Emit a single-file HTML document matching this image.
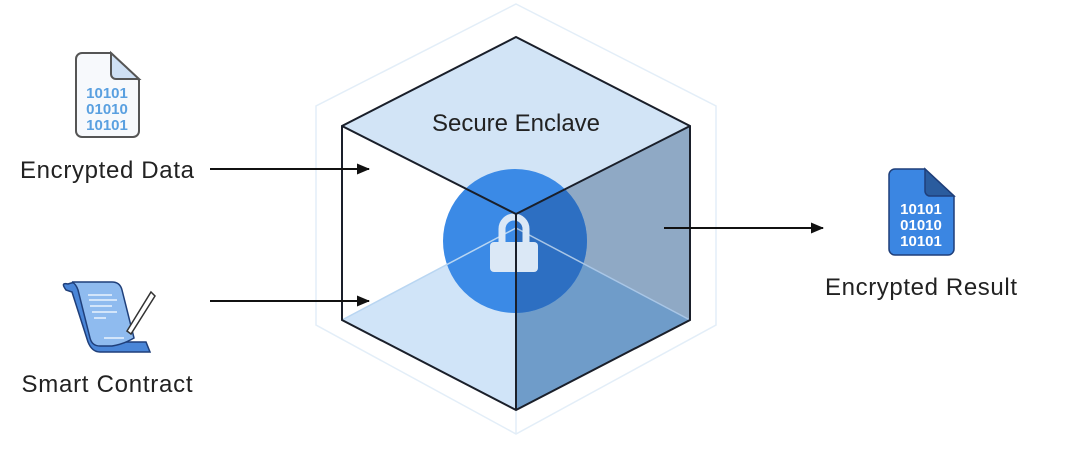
<!DOCTYPE html>
<html><head><style>
html,body{margin:0;padding:0;background:#fff;width:1080px;height:456px;overflow:hidden}
</style></head><body>
<svg width="1080" height="456" viewBox="0 0 1080 456" xmlns="http://www.w3.org/2000/svg" font-family="Liberation Sans, sans-serif">
<defs>
<clipPath id="rf"><polygon points="516,214 690,126 690,320 516,410"/></clipPath>
<marker id="ah" markerWidth="13" markerHeight="11" refX="12" refY="5.5" orient="auto" markerUnits="userSpaceOnUse"><path d="M0,0 L13,5.5 L0,11 z" fill="#111"/></marker>
</defs>
<polygon points="516,4 716,106 716,325 516,434 316,325 316,106" fill="none" stroke="#e3eef8" stroke-width="1.5"/>
<line x1="516" y1="214" x2="516" y2="434" stroke="#e3eef8" stroke-width="1.5"/>
<polygon points="342,126 516,214 516,410 342,320" fill="#ffffff"/>
<polygon points="342,320 516,228 516,410" fill="#d0e4f8"/>
<polygon points="516,214 690,126 690,320 516,228" fill="#8fa9c5"/>
<polygon points="516,228 690,320 516,410" fill="#6f9cc9"/>
<polygon points="516,37 690,126 516,214 342,126" fill="#d2e4f6"/>
<circle cx="515" cy="241" r="72" fill="#3b8ae6"/>
<circle cx="515" cy="241" r="72" fill="#2d6fc2" clip-path="url(#rf)"/>
<line x1="516" y1="228" x2="342" y2="320" stroke="#b9d6f2" stroke-width="1.5"/>
<line x1="516" y1="228" x2="690" y2="320" stroke="#a9c6e6" stroke-width="1.5"/>
<path d="M502,243 V229 a12,12 0 0 1 24,0 V243" fill="none" stroke="#dbe8f6" stroke-width="7"/>
<rect x="490" y="242" width="48" height="30" rx="4" fill="#dbe8f6"/>
<polygon points="516,37 690,126 690,320 516,410 342,320 342,126" fill="none" stroke="#1a1f2a" stroke-width="2"/>
<polyline points="342,126 516,214 690,126" fill="none" stroke="#1a1f2a" stroke-width="2"/>
<line x1="516" y1="214" x2="516" y2="410" stroke="#1a1f2a" stroke-width="2"/>
<text x="516" y="131" text-anchor="middle" font-size="24" fill="#222" textLength="168">Secure Enclave</text>
<line x1="210" y1="169" x2="369" y2="169" stroke="#111" stroke-width="2" marker-end="url(#ah)"/>
<line x1="210" y1="301" x2="369" y2="301" stroke="#111" stroke-width="2" marker-end="url(#ah)"/>
<line x1="664" y1="228" x2="823" y2="228" stroke="#111" stroke-width="2" marker-end="url(#ah)"/>
<path d="M82,53 H111 L139,80 V131 a6,6 0 0 1 -6,6 H82 a6,6 0 0 1 -6,-6 V59 a6,6 0 0 1 6,-6 z" fill="#f7f9fc" stroke="#555" stroke-width="2"/>
<path d="M111,53 V74 a5,5 0 0 0 5,5 H139 z" fill="#cfe0f4" stroke="#555" stroke-width="2"/>
<g font-size="15" font-weight="bold" fill="#5aa0e0" text-anchor="middle">
<text x="107" y="98">10101</text><text x="107" y="114">01010</text><text x="107" y="130">10101</text></g>
<text x="107" y="178" text-anchor="middle" font-size="24" fill="#222" textLength="174">Encrypted Data</text>
<path d="M68,284 Q60,282 66,290 L72,292 L88,342 Q92,352 100,352 H150 L146,342 H100 L84,286 Q80,280 68,284 z" fill="#4a86d8" stroke="#1f3f7a" stroke-width="1.5"/>
<path d="M72,282 H112 Q120,282 122,290 L134,338 Q124,344 112,346 H100 Q92,346 90,338 L78,290 Q76,284 72,282 z" fill="#8fbbef" stroke="#1f3f7a" stroke-width="1.5"/>
<g stroke="#eaf3fd" stroke-width="1.5"><line x1="88" y1="295" x2="112" y2="295"/><line x1="89" y1="300" x2="117" y2="300"/><line x1="90" y1="306" x2="112" y2="306"/><line x1="92" y1="312" x2="117" y2="312"/><line x1="94" y1="318" x2="106" y2="318"/><line x1="104" y1="338" x2="124" y2="338"/></g>
<path d="M151,292 L155,296 L131,334 L127,331 z" fill="#fff" stroke="#333" stroke-width="1.5"/>
<text x="107" y="392" text-anchor="middle" font-size="24" fill="#222" textLength="171">Smart Contract</text>
<path d="M895,169 H925 L954,196 V249 a6,6 0 0 1 -6,6 H895 a6,6 0 0 1 -6,-6 V175 a6,6 0 0 1 6,-6 z" fill="#3b86e2" stroke="#1f3f7a" stroke-width="1.5"/>
<path d="M925,169 V191 a5,5 0 0 0 5,5 H954 z" fill="#2a5c9e" stroke="#1f3f7a" stroke-width="1.5"/>
<g font-size="15" font-weight="bold" fill="#fff" text-anchor="middle">
<text x="921" y="214">10101</text><text x="921" y="230">01010</text><text x="921" y="246">10101</text></g>
<text x="921" y="295" text-anchor="middle" font-size="24" fill="#222" textLength="192">Encrypted Result</text>
</svg>
</body></html>
